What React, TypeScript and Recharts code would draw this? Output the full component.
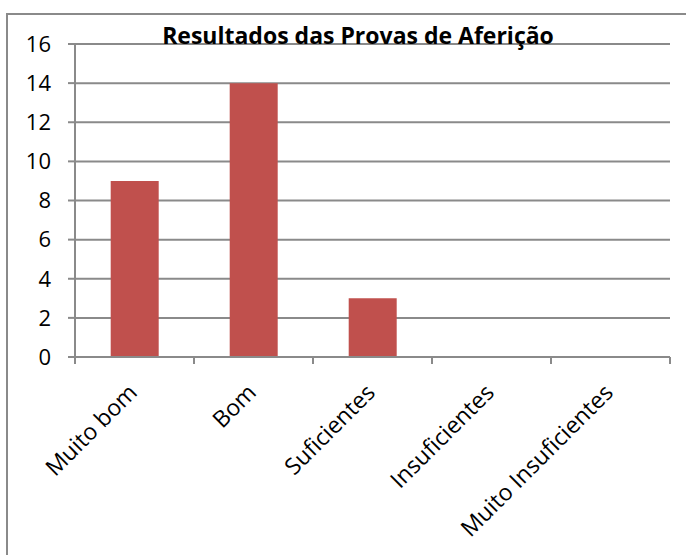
import { Bar, BarChart, CartesianGrid, XAxis, YAxis } from "recharts";

// Resultados das Provas de Aferição — colunas simples, estilo Excel 2007

const categories = ["Muito bom", "Bom", "Suficientes", "Insuficientes", "Muito Insuficientes"];
const counts = [9, 14, 3, 0, 0];
const yTicks = [0, 2, 4, 6, 8, 10, 12, 14, 16];

const rows = categories.map((name, i) => ({ name, value: counts[i] }));

const W = 686;
const H = 555;
const Y_W = 75;
const X_H = 30;
const MARGIN = { top: 44, right: 16, left: 0, bottom: 198 - X_H };
const BAND = (W - Y_W - MARGIN.right) / categories.length;

const RED = "#C0504D";
const LINE = "#8a8a8a";
const FONT = "'Open Sans', 'Liberation Sans', sans-serif";

function CatTick(props: any) {
  const { x, y, payload, index } = props;
  const half = BAND / 2;
  return (
    <g>
      <line x1={x - half} y1={y} x2={x - half} y2={y + 7} stroke={LINE} strokeWidth={2} />
      {index === categories.length - 1 && (
        <line x1={x + half} y1={y} x2={x + half} y2={y + 7} stroke={LINE} strokeWidth={2} />
      )}
      <text
        x={x + 4}
        y={y + 37}
        textAnchor="end"
        transform={`rotate(-45, ${x + 4}, ${y + 37})`}
        fill="#000"
        fontSize={23}
        fontFamily={FONT}
      >
        {payload.value}
      </text>
    </g>
  );
}

export default function App() {
  return (
    <div
      style={{
        position: "absolute",
        left: 0,
        top: 0,
        width: W,
        height: H,
        overflow: "hidden",
        background: "#fff",
      }}
    >
      <div
        style={{
          position: "absolute",
          left: 6,
          top: 13,
          width: W,
          height: H,
          borderLeft: `2px solid ${LINE}`,
          borderTop: `2px solid ${LINE}`,
        }}
      />
      <BarChart width={W} height={H} data={rows} margin={MARGIN} barCategoryGap="30%">
        <CartesianGrid stroke={LINE} strokeWidth={2} vertical={false} />
        <XAxis
          dataKey="name"
          height={X_H}
          interval={0}
          tickLine={false}
          tickSize={0}
          tickMargin={0}
          axisLine={{ stroke: LINE, strokeWidth: 2 }}
          tick={<CatTick />}
        />
        <YAxis
          width={Y_W}
          domain={[0, 16]}
          ticks={yTicks}
          interval={0}
          tickSize={7}
          tickMargin={17}
          tickLine={{ stroke: LINE, strokeWidth: 2 }}
          axisLine={{ stroke: LINE, strokeWidth: 2 }}
          tick={{ fill: "#000", fontSize: 22, fontFamily: FONT }}
        />
        <Bar dataKey="value" fill={RED} isAnimationActive={false} />
      </BarChart>
      <div
        style={{
          position: "absolute",
          left: 0,
          width: 716,
          top: 19,
          textAlign: "center",
          fontFamily: FONT,
          fontWeight: 700,
          fontSize: 23,
          lineHeight: "32px",
          color: "#000",
          whiteSpace: "nowrap",
        }}
      >
        Resultados das Provas de Aferição
      </div>
    </div>
  );
}
